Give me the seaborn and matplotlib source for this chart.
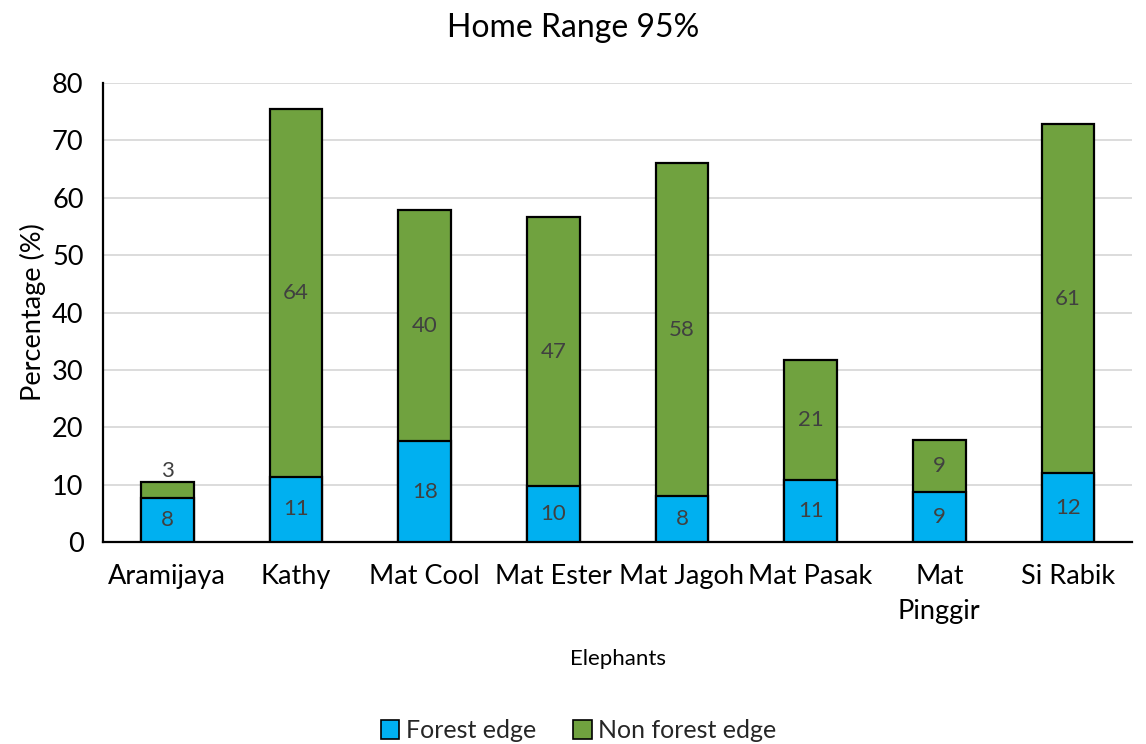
import matplotlib
matplotlib.use("Agg")
import matplotlib.pyplot as plt
from matplotlib.patches import Patch
import seaborn as sns
import pandas as pd

elephants = ["Aramijaya", "Kathy", "Mat Cool", "Mat Ester", "Mat Jagoh",
             "Mat Pasak", "Mat\nPinggir", "Si Rabik"]
forest_edge = [7.7, 11.4, 17.6, 9.8, 8.0, 10.8, 8.7, 12.0]
non_forest_edge = [2.7, 64.1, 40.2, 46.8, 58.0, 20.9, 9.1, 60.8]

BLUE = "#00b0f0"
GREEN = "#70a23f"
LABEL_GREY = "#404040"

sns.set_theme(style="white")
plt.rcParams["font.family"] = ["Lato", "DejaVu Sans"]

df = pd.DataFrame({"elephant": elephants,
                   "forest": forest_edge,
                   "non_forest": non_forest_edge})
df["total"] = df["forest"] + df["non_forest"]

fig = plt.figure(figsize=(11.46, 7.44), dpi=100)
ax = fig.add_axes([0.0899, 0.2715, 0.8981, 0.6169])

# stacked bars: total (green) drawn first, forest-edge (blue) on top
sns.barplot(data=df, x="elephant", y="total", color=GREEN, width=0.41,
            edgecolor="black", linewidth=1.6, saturation=1, ax=ax, zorder=3)
sns.barplot(data=df, x="elephant", y="forest", color=BLUE, width=0.41,
            edgecolor="black", linewidth=1.6, saturation=1, ax=ax, zorder=4)

for i, (f, n) in enumerate(zip(forest_edge, non_forest_edge)):
    ax.text(i, f / 2, f"{round(f)}", ha="center", va="center",
            fontsize=16, color=LABEL_GREY, zorder=5)
    if n < 5:
        ax.text(i, f + n + 0.2, f"{round(n)}", ha="center", va="bottom",
                fontsize=16, color=LABEL_GREY, zorder=5)
    else:
        ax.text(i, f + n / 2, f"{round(n)}", ha="center", va="center",
                fontsize=16, color=LABEL_GREY, zorder=5)

ax.set_ylim(0, 80)
ax.set_xlim(-0.5, len(elephants) - 0.5)
ax.set_yticks(range(0, 81, 10))
ax.yaxis.grid(True, color="#d9d9d9", linewidth=1.3, zorder=0)
ax.set_axisbelow(True)
ax.tick_params(axis="both", length=0, labelsize=19.5, colors="black")
ax.tick_params(axis="x", pad=16)
ax.tick_params(axis="y", pad=14)
for lbl in ax.get_xticklabels():
    lbl.set_linespacing(1.5)

for side in ["top", "right"]:
    ax.spines[side].set_visible(False)
for side in ["left", "bottom"]:
    ax.spines[side].set_color("black")
    ax.spines[side].set_linewidth(1.6)

ax.set_xlabel("Elephants", fontsize=16, labelpad=18, color="black")
ax.set_ylabel("Percentage (%)", fontsize=19.5, labelpad=4, color="black")
fig.text(0.5, 0.962, "Home Range 95%", ha="center", va="center",
         fontsize=23, color="black")

handles = [Patch(facecolor=BLUE, edgecolor="black", linewidth=1.2, label="Forest edge"),
           Patch(facecolor=GREEN, edgecolor="black", linewidth=1.2, label="Non forest edge")]
fig.legend(handles=handles, loc="center", bbox_to_anchor=(0.505, 0.018),
           ncol=2, frameon=False, fontsize=18, handlelength=0.75,
           handleheight=0.75, handletextpad=0.25, columnspacing=1.5)

fig.savefig("out.png", dpi=100)
